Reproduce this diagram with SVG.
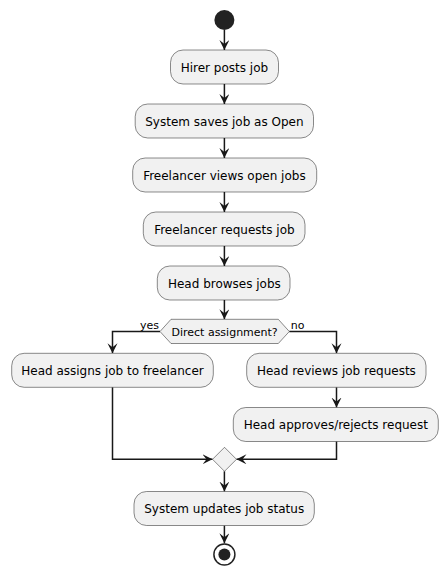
<svg xmlns="http://www.w3.org/2000/svg" width="448" height="577" viewBox="0 0 448 577">
<style>
.box{fill:#F1F1F1;stroke:#181818;stroke-width:0.5}
.t{font-family:"DejaVu Sans",sans-serif;font-size:12px;fill:#000;text-anchor:middle}
.s{font-family:"DejaVu Sans",sans-serif;font-size:11px;fill:#000}
.ln{fill:none;stroke:#181818;stroke-width:1.5}
</style>
<defs>
<marker id="ah" markerUnits="userSpaceOnUse" markerWidth="11" markerHeight="11" refX="10" refY="5" orient="auto" viewBox="0 0 11 11">
<path d="M0,0 L10,5 L0,10 L4,5 Z" fill="#181818"/>
</marker>
</defs>
<g id="connectors">
<path class="ln" d="M224.4,30 V50" marker-end="url(#ah)"/>
<path class="ln" d="M224.4,84 V104" marker-end="url(#ah)"/>
<path class="ln" d="M224.4,138 V158" marker-end="url(#ah)"/>
<path class="ln" d="M224.4,192 V212" marker-end="url(#ah)"/>
<path class="ln" d="M224.4,246 V266" marker-end="url(#ah)"/>
<path class="ln" d="M224.4,300 V319.3" marker-end="url(#ah)"/>
<path class="ln" d="M160,331.5 H112.5 V353.3" marker-end="url(#ah)"/>
<path class="ln" d="M289.3,331.5 H336.5 V353.3" marker-end="url(#ah)"/>
<path class="ln" d="M336.5,387.3 V407.5" marker-end="url(#ah)"/>
<path class="ln" d="M112.5,387.3 V459.3 H212.5" marker-end="url(#ah)"/>
<path class="ln" d="M336.5,441.3 V459.3 H236.5" marker-end="url(#ah)"/>
<path class="ln" d="M224.4,471.3 V491.5" marker-end="url(#ah)"/>
<path class="ln" d="M224.4,525.5 V543.3" marker-end="url(#ah)"/>
<text class="s" x="140" y="329">yes</text>
<text class="s" x="290.7" y="328.5">no</text>
</g>
<g id="start"><circle cx="224.4" cy="20" r="10" fill="#222222"/></g>
<g id="n1"><rect class="box" x="170.5" y="50" width="108" height="34" rx="12.5"/><text class="t" x="224.4" y="71.5">Hirer posts job</text></g>
<g id="n2"><rect class="box" x="135.2" y="104" width="178.3" height="34" rx="12.5"/><text class="t" x="224.4" y="125.5">System saves job as Open</text></g>
<g id="n3"><rect class="box" x="132.7" y="158" width="184" height="34" rx="12.5"/><text class="t" x="224.4" y="179.5">Freelancer views open jobs</text></g>
<g id="n4"><rect class="box" x="143.3" y="212" width="161.7" height="34" rx="12.5"/><text class="t" x="224.4" y="233.5">Freelancer requests job</text></g>
<g id="n5"><rect class="box" x="157.3" y="266" width="132.7" height="34" rx="12.5"/><text class="t" x="224.4" y="287.5">Head browses jobs</text></g>
<g id="decision"><polygon class="box" points="171,319.3 278.3,319.3 289.3,331.5 278.3,343.5 171,343.5 160,331.5"/><text class="s" x="224.6" y="335.7" text-anchor="middle">Direct assignment?</text></g>
<g id="n6"><rect class="box" x="11.7" y="353.3" width="201.6" height="34" rx="12.5"/><text class="t" x="112.5" y="374.8">Head assigns job to freelancer</text></g>
<g id="n7"><rect class="box" x="246.7" y="353.3" width="179.3" height="34" rx="12.5"/><text class="t" x="336.4" y="374.8">Head reviews job requests</text></g>
<g id="n8"><rect class="box" x="233.3" y="407.5" width="205" height="34" rx="12.5"/><text class="t" x="335.8" y="429">Head approves/rejects request</text></g>
<g id="merge"><polygon class="box" points="224.5,447.3 236.5,459.3 224.5,471.3 212.5,459.3"/></g>
<g id="n9"><rect class="box" x="134" y="491.5" width="180.3" height="34" rx="12.5"/><text class="t" x="224.2" y="513">System updates job status</text></g>
<g id="end"><circle cx="224.4" cy="554.5" r="10.5" fill="none" stroke="#222222" stroke-width="1.5"/><circle cx="224.4" cy="554.5" r="6" fill="#222222"/></g>
</svg>
